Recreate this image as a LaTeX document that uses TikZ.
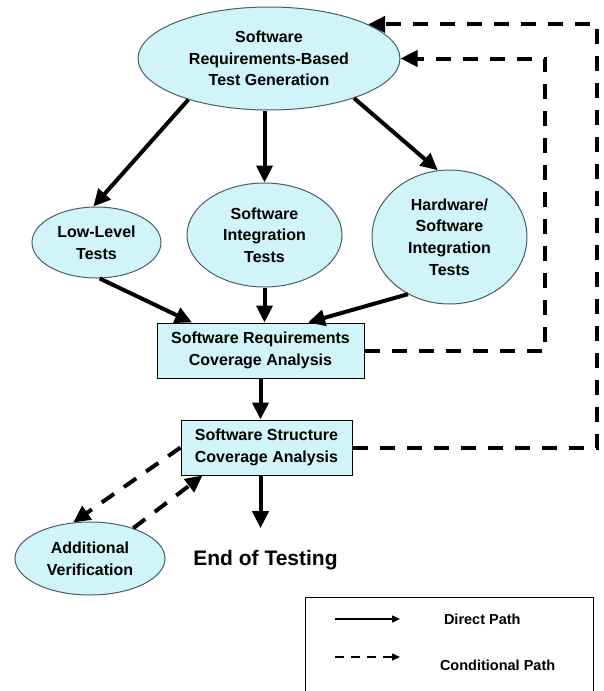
\documentclass[tikz,border=0pt]{standalone}
\usepackage{fontspec}
\setmainfont{Liberation Sans}
\usetikzlibrary{arrows.meta,shapes.geometric}
\definecolor{testfill}{RGB}{208,244,248}
\definecolor{testline}{RGB}{70,95,105}

\begin{document}
\begin{tikzpicture}[x=1pt,y=-1pt,line width=4pt,
	every node/.append style={font=\bfseries\fontsize{16}{21.7}\selectfont}]
    \tikzstyle{direct}=[-{Triangle[length=17pt,width=16pt]}]
    \tikzstyle{conditional}=[direct,dash pattern=on 15pt off 12pt]
    \tikzstyle{test}=[ellipse,draw=testline,line width=1pt,fill=testfill,inner sep=0pt,align=center]
    \tikzstyle{coverage}=[rectangle,draw=black,line width=1pt,fill=testfill,inner sep=0pt,align=center]
    \tikzstyle{annot}=[inner sep=0pt]
    \tikzstyle{key}=[line width=1.5pt,-{Triangle[length=8pt,width=7pt]}]

    \useasboundingbox (0,0) rectangle (604,691);

    % Draw the test generation node
    \node[test, minimum width=262pt, minimum height=103pt] (G) at (269,58.5)
        {Software\\Requirements-Based\\Test Generation};

    % Draw the test nodes
    \node[test, minimum width=129pt, minimum height=71pt] (T-1) at (96.5,242.5) {Low-Level\\Tests};
    \node[test, minimum width=155pt, minimum height=104pt] (T-2) at (264.5,235) {Software\\Integration\\Tests};
    \node[test, minimum width=155pt, minimum height=134pt] (T-3) at (449.5,237)
        {Hardware/\\Software\\Integration\\Tests};

    % Draw the coverage analysis boxes
    \node[coverage, minimum width=207pt, minimum height=55pt] (C-1) at (260.5,350.5)
        {Software Requirements\\Coverage Analysis};
    \node[coverage, minimum width=171pt, minimum height=55pt] (C-2) at (266.5,447.5)
        {Software Structure\\Coverage Analysis};

    \node[test, minimum width=150pt, minimum height=73pt] (A) at (90,558.5) {Additional\\Verification};
    \node[annot, font=\bfseries\fontsize{21}{24}\selectfont] (E) at (265.5,560) {End of Testing};

    % Corners of the conditional paths
    \coordinate (R-1) at (545,200);
    \coordinate (R-2) at (597,200);

    % Connect the generation node with every test node
    \draw[direct] (G.207) -- (T-1.95);
    \draw[direct] (T-2.north |- G.south) -- (T-2.north);
    \draw[direct] (G.-25) -- (T-3.100);

    % Connect every test node with the requirements coverage box
    \draw[direct] (T-1.-85) -- ([xshift=-68.5pt]C-1.north);
    \draw[direct] (T-2.south) -- (T-2.south |- C-1.north);
    \draw[direct] (T-3.234) -- ([xshift=47.5pt]C-1.north);

    \draw[direct] (C-1.south) -- (C-1.south |- C-2.north);
    \draw[direct] (C-1.south |- C-2.south) -- ([yshift=20pt]C-1.south |- E.north);

    % Conditional paths
    \draw[conditional] (C-1.east) -- (C-1.east -| R-1) |- (G.east);
    \draw[conditional] (C-2.east) -- (C-2.east -| R-2) |- (G.19.6);
    \draw[conditional] (C-2.west) -- (A.115);
    \draw[conditional] (A.35) -- ([xshift=22pt]C-2.south west);

    % Legend
    \draw[line width=1pt] (305,597) rectangle (593,697);
    \coordinate (K-1) at (335,619);
    \coordinate (K-2) at (400,619);
    \coordinate (K-3) at (335,657);
    \coordinate (K-4) at (400,657);
    \draw[key] (K-1) -- (K-2);
    \draw[key, dash pattern=on 9pt off 7pt] (K-3) -- (K-4);
    \node[annot, anchor=west, font=\bfseries\fontsize{14.5}{17}\selectfont] (D) at (442,619) {Direct Path};
    \node[annot, anchor=west, font=\bfseries\fontsize{14.5}{17}\selectfont] (P) at (438,665) {Conditional Path};
\end{tikzpicture}
\end{document}
